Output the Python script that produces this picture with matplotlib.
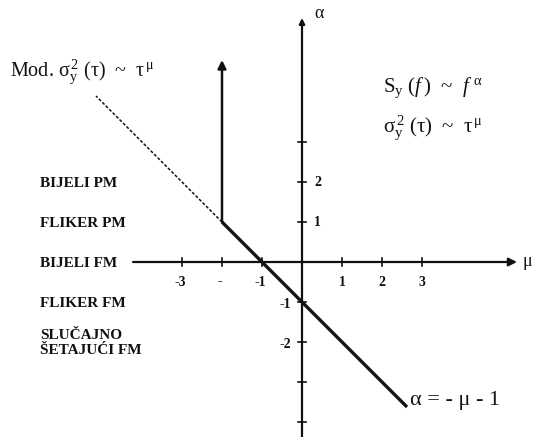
import numpy as np
import matplotlib.pyplot as plt

plt.rcParams['font.family'] = ['Liberation Serif', 'DejaVu Serif']
plt.rcParams['mathtext.fontset'] = 'custom'
plt.rcParams['mathtext.rm'] = 'Liberation Serif'
plt.rcParams['mathtext.it'] = 'Liberation Serif:italic'

# noise types and the spectral exponent alpha they belong to
noise_labels = ['BIJELI PM', 'FLIKER PM', 'BIJELI FM', 'FLIKER FM', 'SLUČAJNO\nŠETAJUĆI FM']
noise_alpha = [2, 1, 0, -1, -2]

# tick marks and labels on the mu axis
mu_ticks = [-3, -2, -1, 1, 2, 3]
mu_tick_labels = ['-3', '-', '-1', '1', '2', '3']

# tick marks on the alpha axis, labels only on some of them
alpha_ticks = [3, 2, 1, -1, -2, -3, -4]
alpha_label_vals = [2, 1, -1, -2]
alpha_label_text = ['2', '1', '-1', '-2']

# alpha = -mu - 1 drawn from the corner at mu = -2
line_mu = np.array([-2.0, 2.625])
line_alpha = -line_mu - 1
dash_mu = np.array([-2.0, -5.15])
dash_alpha = -dash_mu - 1
arrow_top = 5.05

ink = '#111111'

fig = plt.figure(figsize=(5.35, 4.37), dpi=100)
ax = fig.add_axes([0, 0, 1, 1])
ax.set_xlim(-7.55, 5.825)
ax.set_ylim(-4.375, 6.55)
ax.axis('off')

# axes with arrowheads
ax.annotate('', xy=(5.375, 0), xytext=(-4.225, 0),
            arrowprops=dict(arrowstyle='-|>', lw=1.6, color=ink,
                            mutation_scale=12, shrinkA=0, shrinkB=0))
ax.annotate('', xy=(0, 6.1), xytext=(0, -4.4),
            arrowprops=dict(arrowstyle='-|>', lw=1.6, color=ink,
                            mutation_scale=8, shrinkA=0, shrinkB=0))
ax.text(5.5, 0.02, 'μ', fontsize=13, ha='left', va='center', color=ink)
ax.text(0.3, 6.22, 'α', fontsize=13, ha='left', va='center', color=ink)

# tick marks
tk = 0.1
for m in mu_ticks:
    ax.plot([m, m], [-tk, tk], color=ink, lw=1.2)
for a in alpha_ticks:
    ax.plot([-tk, tk], [a, a], color=ink, lw=1.2)

for m, lab in zip(mu_ticks, mu_tick_labels):
    ax.text(m - (0.05 if m < 0 else 0), -0.5, lab, fontsize=10, fontweight='bold',
            ha='center', va='center', color=ink)
for a, lab in zip(alpha_label_vals, alpha_label_text):
    if a > 0:
        ax.text(0.3, a, lab, fontsize=10, fontweight='bold', ha='left', va='center', color=ink)
    else:
        ax.text(-0.28, a - 0.07, lab, fontsize=10, fontweight='bold', ha='right', va='center', color=ink)

# alpha = -mu - 1, its modified continuation and the vertical arrow
ax.plot(line_mu, line_alpha, color=ink, lw=2.4, solid_capstyle='butt')
ax.plot(dash_mu, dash_alpha, color=ink, lw=1.1, linestyle=(0, (2, 1.2)))
ax.annotate('', xy=(-2, arrow_top), xytext=(-2, 1),
            arrowprops=dict(arrowstyle='-|>', lw=1.8, color=ink,
                            mutation_scale=12, shrinkA=0, shrinkB=0))

# noise type labels
for lab, a in zip(noise_labels, noise_alpha):
    ax.text(-6.55, a - 0.03, lab, fontsize=11, fontweight='bold', ha='left', va='center',
            color=ink, linespacing=1.2)

ax.text(-7.3, 4.75, r'Mod. $\mathrm{\sigma_y^{\,2}}$ (τ)  ~  τ$^{\,\mathrm{\mu}}$',
        fontsize=14.5, ha='left', va='center', color=ink)
ax.text(2.02, 4.35, r'S$_{\mathrm{y}}$ ($\mathit{f}\,$)  ~  $\mathit{f}^{\ \mathrm{\alpha}}$',
        fontsize=15, ha='left', va='center', color=ink)
ax.text(2.02, 3.35, r'$\mathrm{\sigma_y^{\,2}}$ (τ)  ~  τ$^{\,\mathrm{\mu}}$',
        fontsize=15, ha='left', va='center', color=ink)
ax.text(2.7, -3.45, 'α = - μ - 1', fontsize=16, ha='left', va='center', color=ink)

fig.savefig('out.png', dpi=100, facecolor='white')
